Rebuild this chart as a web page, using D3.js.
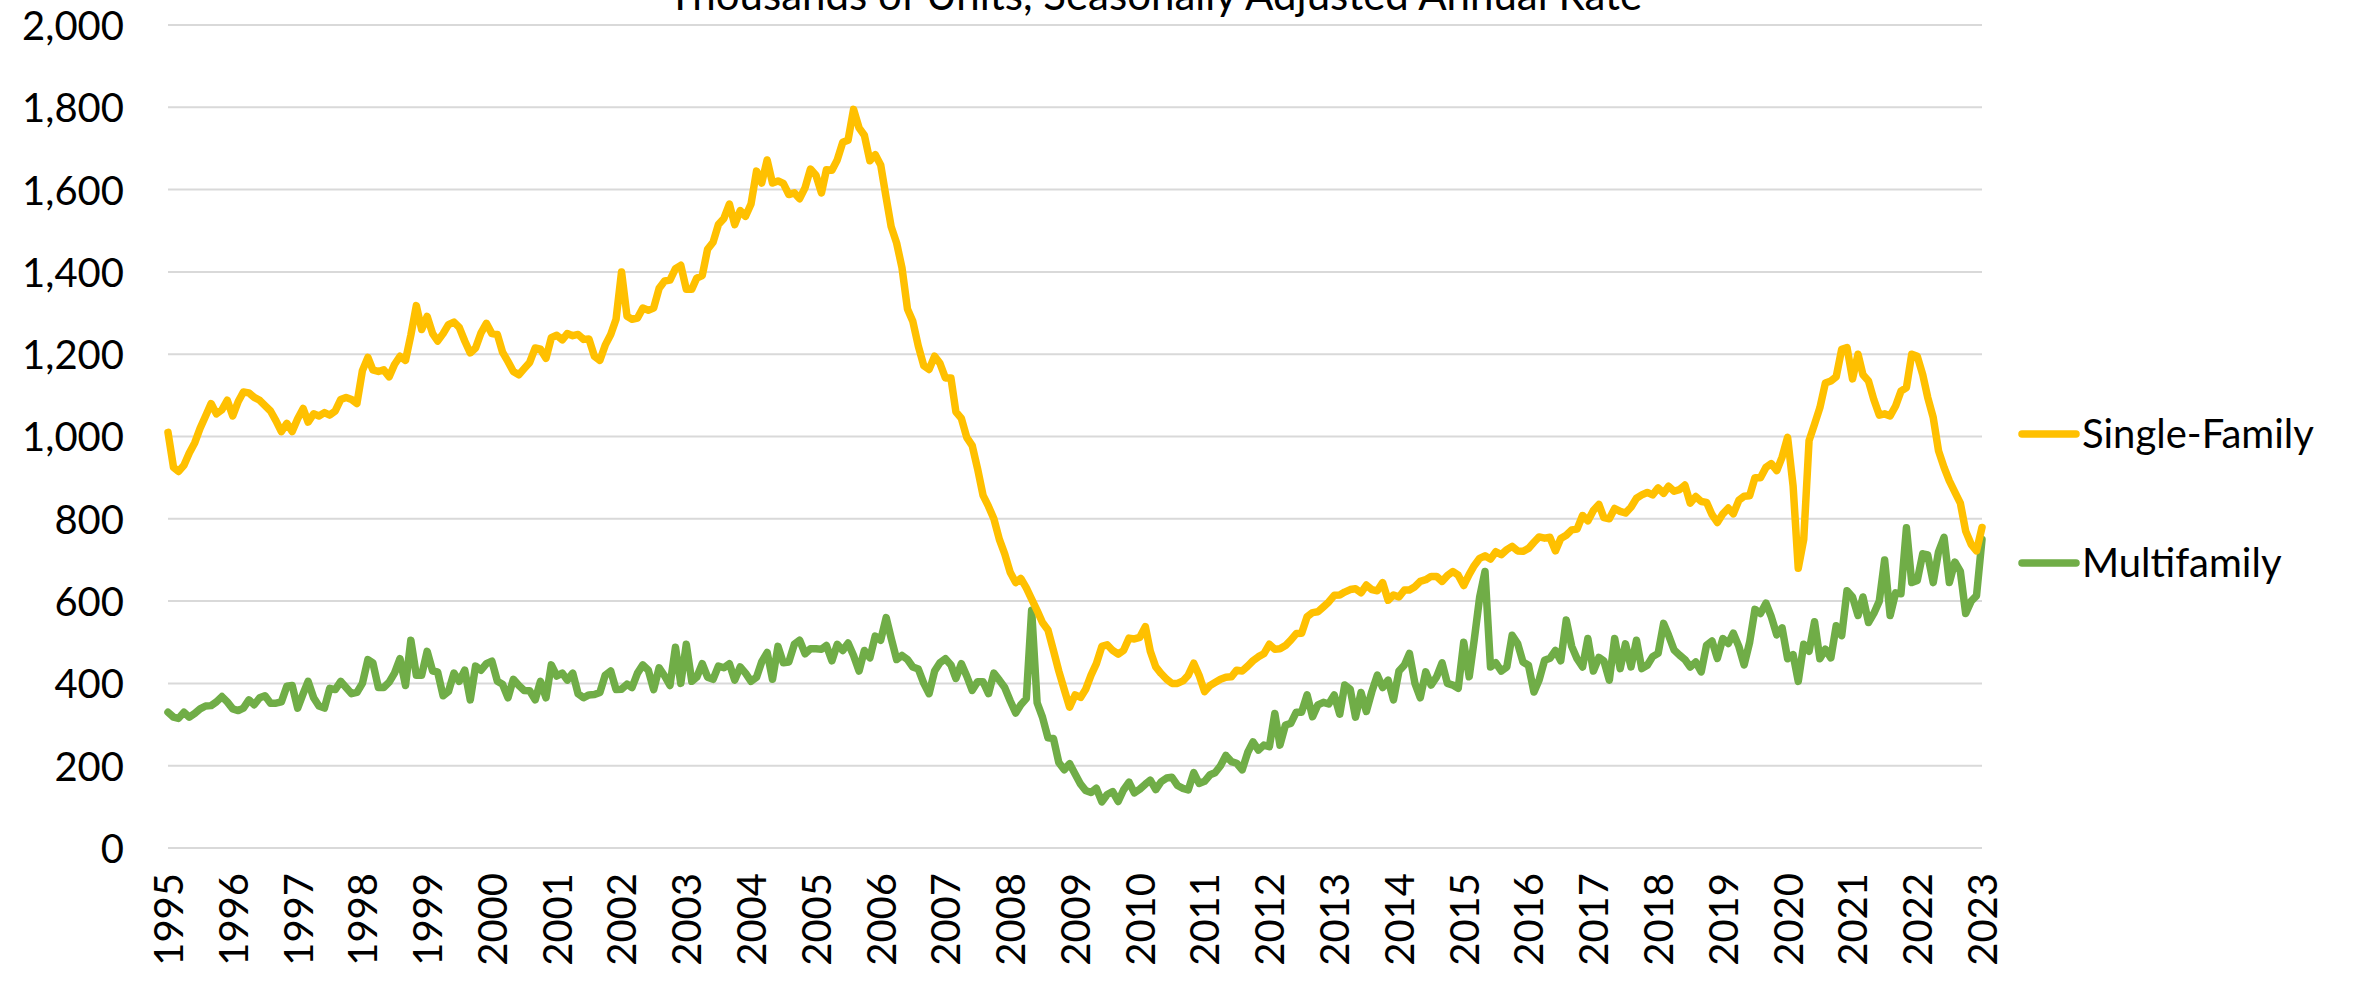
<!DOCTYPE html>
<html>
<head>
<meta charset="utf-8">
<script src="https://cdn.jsdelivr.net/npm/d3@7"></script>
<style>
  html, body { margin: 0; padding: 0; background: #ffffff; }
  svg { display: block; }
  text { font-family: Lato, "Open Sans", sans-serif; fill: #000; }
</style>
</head>
<body>
<svg id="chart" width="2368" height="985"></svg>
<script>
// ---- data ----
const title = "Thousands of Units, Seasonally Adjusted Annual Rate";
const seriesNames = ["Single-Family", "Multifamily"];
const startYear = 1995; // monthly observations beginning January 1995
const yearLabels = ["1995","1996","1997","1998","1999","2000","2001","2002","2003","2004","2005","2006","2007","2008","2009","2010","2011","2012","2013","2014","2015","2016","2017","2018","2019","2020","2021","2022","2023"];
const yTicks = [0, 200, 400, 600, 800, 1000, 1200, 1400, 1600, 1800, 2000];

const singleFamily = [
1010,925,915,930,960,985,1020,1050,1080,1055,1065,1088,
1050,1085,1108,1106,1095,1088,1075,1062,1038,1012,1032,1012,
1043,1068,1035,1055,1050,1058,1052,1062,1090,1095,1090,1080,
1160,1192,1162,1158,1162,1145,1175,1195,1185,1246,1318,1260,
1292,1250,1232,1250,1272,1278,1265,1232,1203,1215,1252,1275,
1250,1248,1205,1182,1158,1150,1165,1180,1215,1212,1190,1240,
1246,1235,1250,1245,1248,1236,1237,1195,1185,1222,1248,1285,
1400,1292,1285,1288,1312,1307,1312,1360,1378,1380,1408,1416,
1358,1358,1385,1391,1455,1472,1515,1530,1565,1515,1549,1535,
1565,1645,1616,1672,1616,1621,1615,1588,1592,1578,1605,1650,
1635,1592,1648,1647,1672,1715,1720,1795,1750,1732,1670,1685,
1660,1580,1510,1470,1410,1310,1280,1220,1172,1163,1195,1178,
1142,1142,1060,1044,998,978,922,857,830,800,750,715,
670,645,655,632,605,577,548,530,480,430,385,342,
372,366,385,420,448,490,494,480,471,480,510,508,
512,538,478,440,424,410,400,400,406,420,449,420,
380,395,402,410,415,416,432,430,442,455,465,472,
495,483,484,492,505,521,522,562,572,574,586,598,
614,615,622,628,630,620,639,628,625,645,602,615,
610,627,627,635,648,652,660,660,648,662,672,663,
638,665,686,704,710,702,720,713,725,733,722,721,
728,743,756,753,755,722,752,760,773,775,808,795,
820,835,803,800,825,818,814,828,850,858,864,858,
875,862,879,867,871,882,838,854,842,840,810,791,
812,826,812,845,855,856,900,900,925,934,917,950,
998,880,680,750,990,1030,1070,1130,1135,1145,1212,1216,
1140,1200,1150,1135,1090,1052,1055,1050,1074,1110,1119,1200,
1195,1150,1095,1046,965,925,892,865,838,770,738,722,
779
];

const multifamily = [
330,318,315,330,318,327,338,345,346,355,368,355,
338,334,340,360,348,365,370,352,352,355,393,395,
340,375,405,365,345,340,388,385,405,390,375,378,
400,458,450,390,390,403,425,460,395,505,420,420,
478,430,428,370,380,425,405,432,360,442,432,448,
454,405,398,365,410,395,383,382,360,405,365,445,
418,425,408,425,375,365,372,373,378,420,430,385,
386,398,390,425,445,432,385,438,418,395,488,400,
495,405,415,448,415,410,442,438,448,408,440,425,
405,415,452,475,410,490,450,452,495,505,472,484,
484,483,492,455,495,480,498,468,430,480,462,515,
505,560,510,458,468,458,440,435,400,375,430,450,
460,445,412,448,418,383,404,404,375,425,408,390,
358,328,348,363,578,353,318,268,266,208,190,205,
180,155,140,135,145,112,130,137,113,141,160,134,
143,155,165,142,161,170,172,152,145,141,183,157,
162,178,183,200,225,210,206,190,232,258,238,250,
246,327,250,299,303,330,330,372,319,348,354,350,
372,325,396,386,318,378,332,380,420,390,408,360,
430,445,473,400,365,428,396,416,450,400,396,388,
500,416,505,610,672,440,450,430,440,517,497,452,
444,379,408,456,461,480,455,554,490,460,440,509,
430,463,455,408,509,436,496,440,505,436,444,465,
473,546,517,481,469,458,440,452,428,493,503,461,
509,497,522,490,445,500,580,570,595,562,518,535,
460,470,405,495,478,550,460,483,462,540,516,625,
610,565,610,548,570,600,700,565,620,618,778,645,
650,715,712,645,720,755,645,695,672,570,600,613,
750
];

const colors = { "Single-Family": "#FFC000", "Multifamily": "#70AD47" };

// ---- chart ----
const svg = d3.select("#chart");
const dates = singleFamily.map((_, i) => new Date(startYear, i, 1));

const x = d3.scaleTime()
  .domain([new Date(startYear, 0, 1), new Date(+yearLabels[yearLabels.length - 1], 0, 1)])
  .range([168, 1982]);
const y = d3.scaleLinear().domain([0, 2000]).range([848, 25]);

// gridlines
svg.append("g")
  .selectAll("line")
  .data(yTicks)
  .join("line")
  .attr("x1", 168).attr("x2", 1982)
  .attr("y1", d => y(d)).attr("y2", d => y(d))
  .attr("stroke", "#D9D9D9").attr("stroke-width", 2);

// y axis labels
const yAxis = d3.axisLeft(y).tickValues(yTicks).tickSize(0).tickPadding(0)
  .tickFormat(d3.format(","));
const gy = svg.append("g").attr("transform", "translate(124,0)").call(yAxis);
gy.select(".domain").remove();
gy.selectAll("text")
  .attr("font-size", 40)
  .attr("font-family", "Lato, sans-serif")
  .attr("fill", "#000")
  .attr("dy", "0.36em");

// x axis labels (years, rotated)
const yearDates = yearLabels.map(s => new Date(+s, 0, 1));
const xAxis = d3.axisBottom(x).tickValues(yearDates).tickSize(0).tickPadding(0)
  .tickFormat(d3.timeFormat("%Y"));
const gx = svg.append("g").attr("transform", "translate(0,873)").call(xAxis);
gx.select(".domain").remove();
gx.selectAll("text")
  .attr("font-size", 40)
  .attr("font-family", "Lato, sans-serif")
  .attr("fill", "#000")
  .attr("text-anchor", "end")
  .attr("transform", "rotate(-90)")
  .attr("x", 0)
  .attr("y", 0)
  .attr("dy", "0.36em");

// lines
const line = d3.line().x((d, i) => x(dates[i])).y(d => y(d));
[["Multifamily", multifamily], ["Single-Family", singleFamily]].forEach(([name, vals]) => {
  svg.append("path")
    .datum(vals)
    .attr("d", line)
    .attr("fill", "none")
    .attr("stroke", colors[name])
    .attr("stroke-width", 7.5)
    .attr("stroke-linejoin", "round")
    .attr("stroke-linecap", "round");
});

// title (partially cut at top, as in the original)
svg.append("text")
  .attr("x", 1155).attr("y", 10)
  .attr("text-anchor", "middle")
  .attr("font-size", 42)
  .text(title);

// legend
const legendY = { "Single-Family": 434, "Multifamily": 563 };
seriesNames.forEach(name => {
  const g = svg.append("g").attr("transform", `translate(0,${legendY[name]})`);
  g.append("line")
    .attr("x1", 2022).attr("x2", 2076)
    .attr("y1", 0).attr("y2", 0)
    .attr("stroke", colors[name]).attr("stroke-width", 7.5)
    .attr("stroke-linecap", "round");
  g.append("text")
    .attr("x", 2082).attr("y", 0)
    .attr("dy", "0.36em")
    .attr("font-size", 40)
    .text(name);
});
</script>
</body>
</html>
